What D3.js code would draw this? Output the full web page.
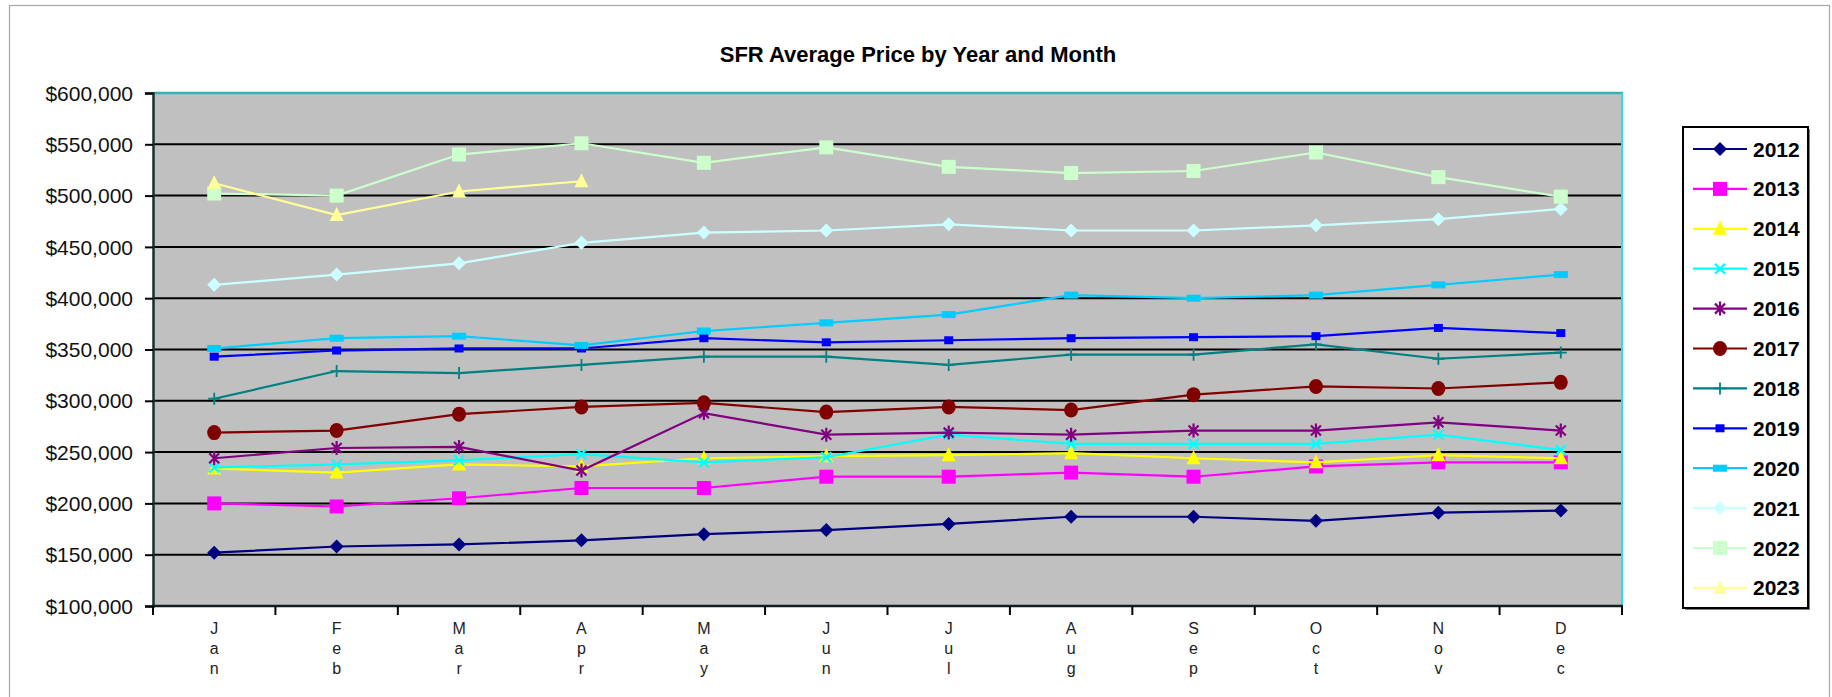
<!DOCTYPE html>
<html>
<head>
<meta charset="utf-8">
<script src="https://cdnjs.cloudflare.com/ajax/libs/d3/7.8.5/d3.min.js"></script>
<style>
  html, body { margin: 0; padding: 0; background: #fff; }
  svg { display: block; }
</style>
</head>
<body>
<script>
// ---------------- DATA ----------------
const months = ["Jan","Feb","Mar","Apr","May","Jun","Jul","Aug","Sep","Oct","Nov","Dec"];
const years = ["2012","2013","2014","2015","2016","2017","2018","2019","2020","2021","2022","2023"];
const yTicks = [100000,150000,200000,250000,300000,350000,400000,450000,500000,550000,600000];

const v2012 = [152000,158000,160000,164000,170000,174000,180000,187000,187000,183000,191000,193000];
const v2013 = [200000,197000,205000,215000,215000,226000,226000,230000,226000,236000,240000,240000];
const v2014 = [234000,230000,238000,236000,244000,246000,247000,249000,244000,240000,247000,244000];
const v2015 = [235000,238000,242000,248000,240000,245000,267000,258000,258000,258000,267000,252000];
const v2016 = [244000,254000,255000,232000,288000,267000,269000,267000,271000,271000,279000,271000];
const v2017 = [269000,271000,287000,294000,298000,289000,294000,291000,306000,314000,312000,318000];
const v2018 = [302000,329000,327000,335000,343000,343000,335000,345000,345000,355000,341000,347000];
const v2019 = [343000,349000,351000,351000,361000,357000,359000,361000,362000,363000,371000,366000];
const v2020 = [351000,361000,363000,354000,368000,376000,384000,403000,400000,403000,413000,423000];
const v2021 = [413000,423000,434000,454000,464000,466000,472000,466000,466000,471000,477000,487000];
const v2022 = [502000,500000,540000,551000,532000,547000,528000,522000,524000,542000,518000,499000];
const v2023 = [512000,481000,504000,514000];

const seriesValues = [v2012,v2013,v2014,v2015,v2016,v2017,v2018,v2019,v2020,v2021,v2022,v2023];
const seriesColors = ["#000080","#FF00FF","#FFFF00","#00FFFF","#800080","#800000","#008080","#0000FF","#00CCFF","#CCFFFF","#CCFFCC","#FFFF99"];
const seriesMarkers = ["diamond","square","triangle","x","star","circle","plus","dot","dash","diamond","square","triangle"];

// ---------------- LAYOUT ----------------
const W = 1832, H = 697;
const plot = { left: 153, top: 93, right: 1622, bottom: 606 };

const svg = d3.select("body").append("svg").attr("width", W).attr("height", H);

// outer chart border
svg.append("rect").attr("x", 9.5).attr("y", 5.5).attr("width", 1820).attr("height", 720)
  .attr("fill", "#fff").attr("stroke", "#A6A6A6").attr("stroke-width", 1.2);

const x = d3.scaleBand().domain(months).range([plot.left, plot.right]).paddingInner(0).paddingOuter(0);
const y = d3.scaleLinear().domain([100000, 600000]).range([plot.bottom, plot.top]);
const cx = m => x(m) + x.bandwidth() / 2;

// plot background
svg.append("rect").attr("x", plot.left).attr("y", plot.top)
  .attr("width", plot.right - plot.left).attr("height", plot.bottom - plot.top)
  .attr("fill", "#C0C0C0");

// gridlines
svg.append("g").selectAll("line").data(yTicks.filter(t => t > 100000 && t < 600000)).join("line")
  .attr("x1", plot.left).attr("x2", plot.right)
  .attr("y1", d => y(d)).attr("y2", d => y(d))
  .attr("stroke", "#000").attr("stroke-width", 2);

// plot border (top teal, right cyan)
svg.append("line").attr("x1", plot.left).attr("x2", plot.right + 1).attr("y1", plot.top).attr("y2", plot.top)
  .attr("stroke", "#33B3B3").attr("stroke-width", 2.5);
svg.append("line").attr("x1", plot.right).attr("x2", plot.right).attr("y1", plot.top).attr("y2", plot.bottom)
  .attr("stroke", "#33DDDD").attr("stroke-width", 2);

// y axis
const yAxis = d3.axisLeft(y).tickValues(yTicks).tickSize(8).tickPadding(12)
  .tickFormat(d => "$" + d3.format(",")(d));
const gy = svg.append("g").attr("transform", `translate(${plot.left},0)`).call(yAxis);
gy.select(".domain").attr("stroke", "#1a2e2e").attr("stroke-width", 2.5);
gy.selectAll(".tick line").attr("stroke", "#000").attr("stroke-width", 2);
gy.selectAll(".tick text").attr("font-family", "'Liberation Sans', Arial, sans-serif")
  .attr("font-size", 21).attr("fill", "#111").attr("dy", "0.34em");

// x axis (ticks at category boundaries)
const boundaries = months.map(m => x(m)).concat([plot.right]);
svg.append("line").attr("x1", plot.left - 1).attr("x2", plot.right + 1).attr("y1", plot.bottom).attr("y2", plot.bottom)
  .attr("stroke", "#102020").attr("stroke-width", 2.5);
svg.append("g").selectAll("line").data(boundaries).join("line")
  .attr("x1", d => d).attr("x2", d => d).attr("y1", plot.bottom).attr("y2", plot.bottom + 9)
  .attr("stroke", "#000").attr("stroke-width", 2);

// month labels, stacked vertically
const ml = svg.append("g").selectAll("text").data(months).join("text")
  .attr("x", d => cx(d)).attr("y", 634)
  .attr("text-anchor", "middle")
  .attr("font-family", "'Liberation Sans', Arial, sans-serif")
  .attr("font-size", 16).attr("fill", "#222");
ml.each(function(d) {
  const t = d3.select(this);
  d.split("").forEach((ch, i) => {
    t.append("tspan").attr("x", cx(d)).attr("dy", i === 0 ? 0 : 20).text(ch);
  });
});

// marker drawing
function drawMarker(g, type, color, px, py) {
  switch (type) {
    case "diamond":
      g.append("path").attr("d", `M${px},${py-7}L${px+7},${py}L${px},${py+7}L${px-7},${py}Z`).attr("fill", color);
      break;
    case "square":
      g.append("rect").attr("x", px - 7).attr("y", py - 7).attr("width", 14).attr("height", 14).attr("fill", color);
      break;
    case "triangle":
      g.append("path").attr("d", `M${px},${py-8}L${px+7},${py+6}L${px-7},${py+6}Z`).attr("fill", color);
      break;
    case "x":
      g.append("path").attr("d", `M${px-5},${py-5}L${px+5},${py+5}M${px-5},${py+5}L${px+5},${py-5}`)
        .attr("stroke", color).attr("stroke-width", 2.2).attr("fill", "none");
      break;
    case "star":
      g.append("path").attr("d", `M${px-5},${py-5}L${px+5},${py+5}M${px-5},${py+5}L${px+5},${py-5}M${px},${py-7}L${px},${py+7}`)
        .attr("stroke", color).attr("stroke-width", 2.2).attr("fill", "none");
      break;
    case "circle":
      g.append("ellipse").attr("cx", px).attr("cy", py).attr("rx", 7).attr("ry", 7.5).attr("fill", color);
      break;
    case "plus":
      g.append("path").attr("d", `M${px-6},${py}L${px+6},${py}M${px},${py-6}L${px},${py+6}`)
        .attr("stroke", color).attr("stroke-width", 1.8).attr("fill", "none");
      break;
    case "dot":
      g.append("rect").attr("x", px - 4.5).attr("y", py - 4).attr("width", 9).attr("height", 8).attr("fill", color);
      break;
    case "dash":
      g.append("rect").attr("x", px - 7).attr("y", py - 3.5).attr("width", 14).attr("height", 7).attr("fill", color);
      break;
  }
}

// series lines + markers
const line = d3.line().x(d => cx(d.m)).y(d => y(d.v));
seriesValues.forEach((vals, i) => {
  const pts = vals.map((v, j) => ({ m: months[j], v }));
  const g = svg.append("g");
  g.append("path").datum(pts).attr("d", line)
    .attr("fill", "none").attr("stroke", seriesColors[i]).attr("stroke-width", 2.2);
  pts.forEach(p => drawMarker(g, seriesMarkers[i], seriesColors[i], cx(p.m), y(p.v)));
});

// title
svg.append("text").attr("x", 918).attr("y", 62).attr("text-anchor", "middle")
  .attr("font-family", "'Liberation Sans', Arial, sans-serif").attr("font-weight", "bold")
  .attr("font-size", 22).attr("fill", "#000")
  .text("SFR Average Price by Year and Month");

// legend
const lg = svg.append("g");
lg.append("rect").attr("x", 1685).attr("y", 129).attr("width", 125).attr("height", 481).attr("fill", "#808080");
lg.append("rect").attr("x", 1683).attr("y", 127).attr("width", 125).attr("height", 481)
  .attr("fill", "#fff").attr("stroke", "#000").attr("stroke-width", 2);
years.forEach((yr, i) => {
  const ly = 149 + i * 39.9;
  lg.append("line").attr("x1", 1693).attr("x2", 1747).attr("y1", ly).attr("y2", ly)
    .attr("stroke", seriesColors[i]).attr("stroke-width", 2.2);
  drawMarker(lg, seriesMarkers[i], seriesColors[i], 1720, ly);
  lg.append("text").attr("x", 1753).attr("y", ly + 7.5)
    .attr("font-family", "'Liberation Sans', Arial, sans-serif").attr("font-weight", "bold")
    .attr("font-size", 21).attr("fill", "#000").text(yr);
});
</script>
</body>
</html>
